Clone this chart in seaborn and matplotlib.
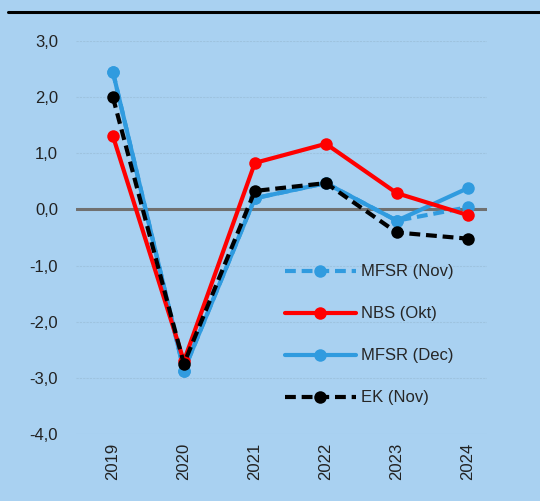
import seaborn as sns
import matplotlib.pyplot as plt
import pandas as pd
from matplotlib.lines import Line2D
from matplotlib.ticker import FuncFormatter

roky = ["2019", "2020", "2021", "2022", "2023", "2024"]
mfsr_nov = [2.45, -2.87, 0.20, 0.47, -0.20, 0.04]
nbs_okt = [1.31, -2.70, 0.83, 1.17, 0.29, -0.10]
mfsr_dec = [2.45, -2.87, 0.20, 0.47, -0.20, 0.38]
ek_nov = [2.00, -2.75, 0.33, 0.47, -0.41, -0.52]

pozadie = "#A9D1F1"
modra = "#309BDF"
cervena = "#FF0000"

sns.set_style("white")
plt.rcParams['font.family'] = ['Liberation Sans Narrow', 'Liberation Sans', 'DejaVu Sans']

fig = plt.figure(figsize=(5.4, 5.01), dpi=100, facecolor=pozadie)
ax = fig.add_axes([0.1407, 0.1337, 0.7612, 0.7843])
ax.set_facecolor(pozadie)

df = pd.DataFrame({"rok": range(len(roky)), "MFSR (Dec)": mfsr_dec, "MFSR (Nov)": mfsr_nov,
                   "NBS (Okt)": nbs_okt, "EK (Nov)": ek_nov})

# nulova os
ax.axhline(0, color="#707070", lw=2.2, zorder=1)

styly = {
    "MFSR (Dec)": dict(color=modra, dashes=False),
    "MFSR (Nov)": dict(color=modra, dashes=True),
    "NBS (Okt)": dict(color=cervena, dashes=False),
    "EK (Nov)": dict(color="black", dashes=True),
}
ciary = {}
for seria, st in styly.items():
    sns.lineplot(data=df, x="rok", y=seria, ax=ax, color=st["color"], lw=3,
                 marker="o", markersize=9, markeredgewidth=0, zorder=3)
    ln = ax.lines[-1]
    if st["dashes"]:
        ln.set_dashes((2.6, 1.4))
    ciary[seria] = ln

ax.set_ylim(-4, 3)
ax.set_xlim(-0.52, 5.27)
ax.set_yticks(range(-4, 4))
ax.yaxis.set_major_formatter(FuncFormatter(lambda v, p: f"{v:.1f}".replace(".", ",")))
ax.set_xticks(range(len(roky)))
ax.set_xticklabels(roky, rotation=90)
ax.tick_params(axis="both", length=0, labelsize=12, colors="#222222")
ax.tick_params(axis="y", pad=13)
ax.tick_params(axis="x", pad=6)
ax.yaxis.grid(True, color="#9EC3DF", lw=0.8, ls=(0, (2, 1)))
ax.set_axisbelow(True)
ax.set_xlabel("")
ax.set_ylabel("")
sns.despine(ax=ax, left=True, bottom=True)

poradie = ["MFSR (Nov)", "NBS (Okt)", "MFSR (Dec)", "EK (Nov)"]
ax.legend([ciary[s] for s in poradie], poradie, loc="upper left",
          bbox_to_anchor=(0.471, 0.47), frameon=False, fontsize=12,
          handlelength=4.3, labelspacing=1.62, handletextpad=0.3)

fig.add_artist(Line2D([8 / 540, 1], [1 - 12 / 501, 1 - 12 / 501], color="black", lw=2.2,
                      transform=fig.transFigure))

fig.savefig("out.png", dpi=100, facecolor=pozadie)
